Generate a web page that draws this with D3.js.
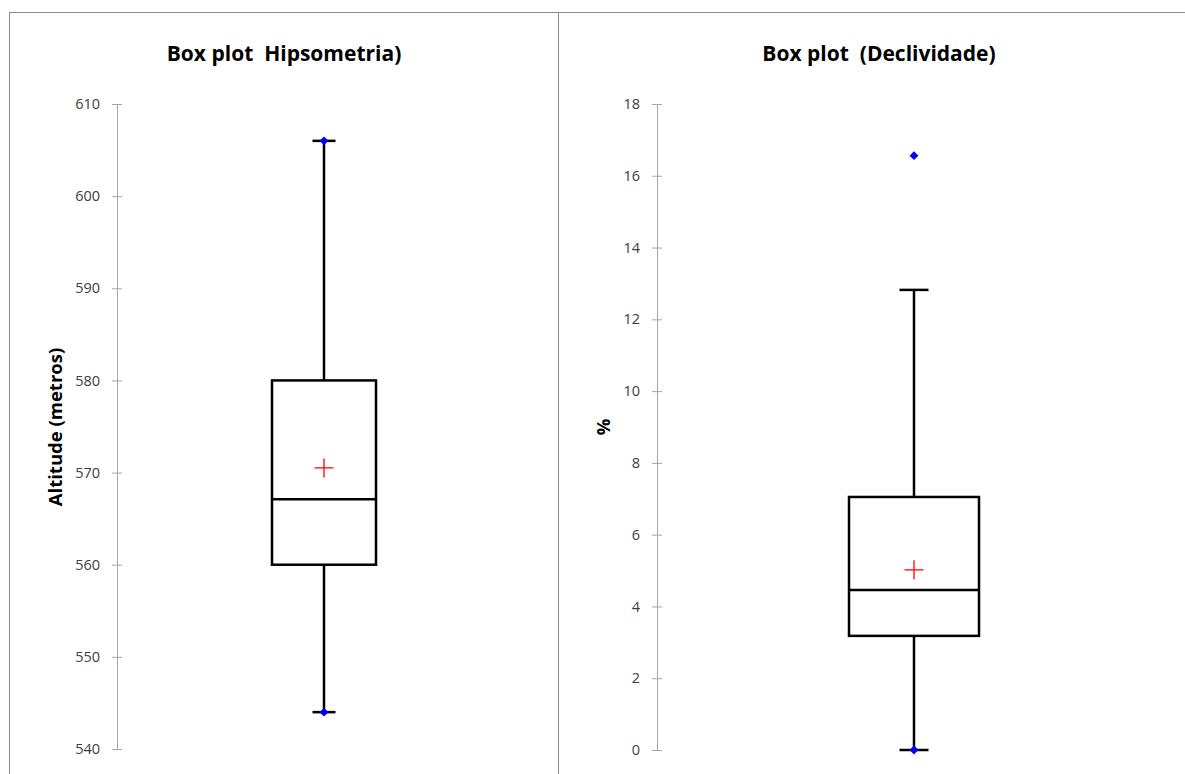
<!DOCTYPE html>
<html lang="pt">
<head>
<meta charset="UTF-8">
<title>Box plots</title>
<script src="https://d3js.org/d3.v7.min.js"></script>
<style>
  body { margin: 0; background: #fff; }
  text { font-family: "Open Sans", "Liberation Sans", sans-serif; }
</style>
</head>
<body>
<div id="chart"></div>
<script>
// Hipsometria summary (metres)
const hipsoTicks = [540, 550, 560, 570, 580, 590, 600, 610];
const hipsoStats = { min: 544, q1: 560, median: 567.1, q3: 580, max: 606, mean: 570.5 };
const hipsoPoints = [544, 606];

// Declividade summary (%)
const declivTicks = [0, 2, 4, 6, 8, 10, 12, 14, 16, 18];
const declivStats = { min: 0, q1: 3.18, median: 4.46, q3: 7.05, max: 12.82, mean: 5.02 };
const declivPoints = [0, 16.56];

const width = 1185, height = 774;

const svg = d3.select("#chart").append("svg")
    .attr("width", width)
    .attr("height", height);

// frame lines
svg.append("line").attr("x1", 10).attr("x2", width).attr("y1", 12.5).attr("y2", 12.5)
    .attr("stroke", "#8c8c8c").attr("stroke-width", 1);
svg.append("line").attr("x1", 9.5).attr("x2", 9.5).attr("y1", 12).attr("y2", height)
    .attr("stroke", "#8c8c8c").attr("stroke-width", 1);
svg.append("line").attr("x1", 558.5).attr("x2", 558.5).attr("y1", 12).attr("y2", height)
    .attr("stroke", "#8c8c8c").attr("stroke-width", 1);

function boxPanel(cfg) {
    const y = d3.scaleLinear()
        .domain(d3.extent(cfg.ticks))
        .range([cfg.bottom, 104]);

    const g = svg.append("g");

    // title
    g.append("text")
        .attr("x", cfg.titleX)
        .attr("y", 61)
        .attr("text-anchor", "middle")
        .attr("font-size", "21px")
        .attr("font-weight", "bold")
        .attr("fill", "#000")
        .style("white-space", "pre")
        .text(cfg.title);

    // axis with ticks crossing the line
    const axis = g.append("g")
        .attr("transform", `translate(${cfg.axisX},0)`)
        .call(d3.axisLeft(y).tickValues(cfg.ticks).tickSize(0).tickPadding(17));
    axis.select(".domain").attr("stroke", "#a6a6a6");
    axis.selectAll(".tick text")
        .attr("font-size", "14.5px")
        .attr("fill", "#404040")
        .style("font-family", "'Open Sans', 'Liberation Sans', sans-serif");
    axis.selectAll(".tick").append("line")
        .attr("x1", -5).attr("x2", 5)
        .attr("stroke", "#a6a6a6");

    // y label
    g.append("text")
        .attr("transform", `translate(${cfg.labelX},427) rotate(-90)`)
        .attr("text-anchor", "middle")
        .attr("font-size", "18.5px")
        .attr("font-weight", "bold")
        .attr("fill", "#000")
        .text(cfg.label);

    const s = cfg.stats;
    const cx = cfg.cx, bw = cfg.boxWidth, cap = cfg.capWidth;

    // whiskers
    g.append("line").attr("x1", cx).attr("x2", cx)
        .attr("y1", y(s.q3)).attr("y2", y(s.max))
        .attr("stroke", "#000").attr("stroke-width", 2.5);
    g.append("line").attr("x1", cx).attr("x2", cx)
        .attr("y1", y(s.q1)).attr("y2", y(s.min))
        .attr("stroke", "#000").attr("stroke-width", 2.5);
    [s.max, s.min].forEach(v => {
        g.append("line").attr("x1", cx - cap / 2).attr("x2", cx + cap / 2)
            .attr("y1", y(v)).attr("y2", y(v))
            .attr("stroke", "#000").attr("stroke-width", 2.5);
    });

    // box
    g.append("rect")
        .attr("x", cx - bw / 2).attr("width", bw)
        .attr("y", y(s.q3)).attr("height", y(s.q1) - y(s.q3))
        .attr("fill", "none").attr("stroke", "#000").attr("stroke-width", 2.5);
    g.append("line").attr("x1", cx - bw / 2).attr("x2", cx + bw / 2)
        .attr("y1", y(s.median)).attr("y2", y(s.median))
        .attr("stroke", "#000").attr("stroke-width", 2.5);

    // mean marker
    g.append("path")
        .attr("d", `M${cx - 9.5},${y(s.mean)}h19M${cx},${y(s.mean) - 9.5}v19`)
        .attr("stroke", "#ff0000").attr("stroke-width", 1.3).attr("fill", "none");

    // min/max/outlier points
    g.selectAll(".pt").data(cfg.points).enter().append("path")
        .attr("class", "pt")
        .attr("transform", d => `translate(${cx},${y(d)})`)
        .attr("d", d3.symbol(d3.symbolDiamond2, 50))
        .attr("fill", "#0000ff");
}

boxPanel({
    title: "Box plot  Hipsometria)", titleX: 284,
    ticks: hipsoTicks, stats: hipsoStats, points: hipsoPoints,
    axisX: 117, bottom: 749, label: "Altitude (metros)", labelX: 62,
    cx: 324, boxWidth: 104, capWidth: 23
});

boxPanel({
    title: "Box plot  (Declividade)", titleX: 879,
    ticks: declivTicks, stats: declivStats, points: declivPoints,
    axisX: 657, bottom: 750, label: "%", labelX: 610,
    cx: 914, boxWidth: 130, capWidth: 29
});
</script>
</body>
</html>
